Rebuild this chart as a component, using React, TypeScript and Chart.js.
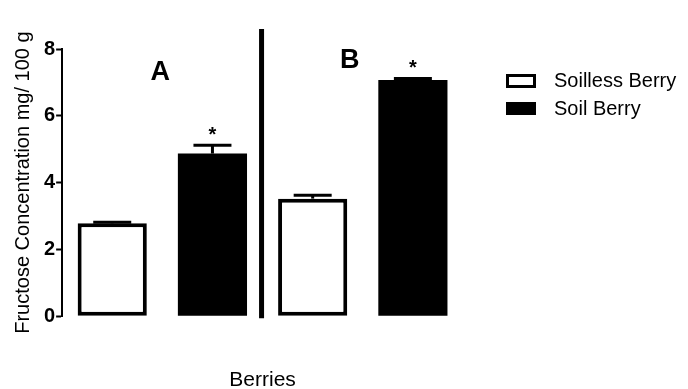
import React, { useEffect, useRef } from "react";
import { Chart, registerables } from "chart.js";

Chart.register(...registerables);

const categories = ["A Soilless", "A Soil", "B Soilless", "B Soil"];
const soillessValues = [2.78, null, 3.52, null];
const soilValues = [null, 4.87, null, 7.07];
const errors = [0.03, 0.25, 0.1, 0.05];
const significant = [false, true, false, true];
const groupLabels = ["A", "B"];
const groupLabelX = [0.48, 2.37];
const groupLabelY = [7.3, 7.65];
const yTicks = [0, 2, 4, 6, 8];

const FONT = "'Liberation Sans', Arial, Helvetica, sans-serif";

const extrasPlugin = {
  id: "extras",
  afterDatasetsDraw(chart: any) {
    const ctx = chart.ctx;
    const x = chart.scales.x;
    const y = chart.scales.y;
    ctx.save();
    ctx.strokeStyle = "#000";
    ctx.fillStyle = "#000";
    // error bars + asterisks
    categories.forEach((_, i) => {
      const v = soillessValues[i] ?? soilValues[i];
      if (v == null) return;
      const cx = x.getPixelForValue(i);
      const top = y.getPixelForValue(v + errors[i]);
      const base = y.getPixelForValue(v);
      ctx.lineWidth = 3;
      ctx.beginPath();
      ctx.moveTo(cx, base);
      ctx.lineTo(cx, top);
      ctx.stroke();
      ctx.beginPath();
      ctx.moveTo(cx - 19, top);
      ctx.lineTo(cx + 19, top);
      ctx.stroke();
      if (significant[i]) {
        ctx.font = `bold 20px ${FONT}`;
        ctx.textAlign = "center";
        ctx.textBaseline = "middle";
        ctx.fillText("*", cx, top - 10);
      }
    });
    // divider
    const dx = (x.getPixelForValue(1) + x.getPixelForValue(2)) / 2 - 1;
    ctx.lineWidth = 5;
    ctx.beginPath();
    ctx.moveTo(dx, y.getPixelForValue(8.6));
    ctx.lineTo(dx, chart.chartArea.bottom + 2);
    ctx.stroke();
    // group labels
    ctx.font = `bold 27px ${FONT}`;
    ctx.textAlign = "center";
    ctx.textBaseline = "middle";
    groupLabels.forEach((t, i) => {
      ctx.fillText(t, x.getPixelForValue(groupLabelX[i]), y.getPixelForValue(groupLabelY[i]));
    });
    // legend
    const lx = chart.chartArea.right + 43;
    const ly = chart.chartArea.top + 25;
    chart.data.datasets.forEach((ds: any, i: number) => {
      const by = ly + i * 28;
      if (ds.backgroundColor === "#ffffff") {
        ctx.fillStyle = "#fff";
        ctx.fillRect(lx, by, 30, 14);
        ctx.lineWidth = 3;
        ctx.strokeStyle = "#000";
        ctx.strokeRect(lx + 1.5, by + 1.5, 27, 11);
      } else {
        ctx.fillStyle = "#000";
        ctx.fillRect(lx, by, 30, 13);
      }
      ctx.fillStyle = "#000";
      ctx.font = `20px ${FONT}`;
      ctx.textAlign = "left";
      ctx.textBaseline = "middle";
      ctx.fillText(ds.label, lx + 48, by + 7);
    });
    ctx.restore();
  },
};

export default function App() {
  const ref = useRef<HTMLCanvasElement>(null);
  useEffect(() => {
    if (!ref.current) return;
    const chart = new Chart(ref.current, {
      type: "bar",
      data: {
        labels: categories,
        datasets: [
          {
            label: "Soilless Berry",
            data: soillessValues,
            backgroundColor: "#ffffff",
            borderColor: "#000000",
            borderWidth: 4,
            borderSkipped: false,
          },
          {
            label: "Soil Berry",
            data: soilValues,
            backgroundColor: "#000000",
            borderColor: "#000000",
            borderWidth: 0,
          },
        ],
      },
      options: {
        responsive: false,
        animation: false,
        events: [],
        datasets: { bar: { grouped: false, barPercentage: 0.69, categoryPercentage: 1 } },
        layout: { padding: { top: 49, right: 225, left: 11, bottom: 0 } },
        plugins: { legend: { display: false }, tooltip: { enabled: false } },
        scales: {
          x: {
            grid: { display: false, drawTicks: false },
            border: { display: false },
            ticks: { display: false },
            title: {
              display: true,
              text: "Berries",
              color: "#000",
              font: { family: FONT, size: 21, lineHeight: 0.8 },
              padding: { top: 56, bottom: 0 },
            },
          },
          y: {
            min: 0,
            max: 8,
            afterBuildTicks: (s: any) => {
              s.ticks = yTicks.map((v) => ({ value: v }));
            },
            grid: {
              drawOnChartArea: false,
              drawTicks: true,
              tickLength: 6,
              tickWidth: 2,
              tickColor: "#000",
            },
            border: { display: true, color: "#000", width: 2 },
            ticks: {
              color: "#000",
              padding: 1,
              font: { family: FONT, size: 20, weight: "bold" },
            },
            title: {
              display: true,
              text: "Fructose Concentration mg/ 100 g",
              color: "#000",
              font: { family: FONT, size: 20 },
              padding: { top: 0, bottom: 8 },
            },
          },
        },
      },
      plugins: [extrasPlugin],
    });
    return () => chart.destroy();
  }, []);
  return (
    <div style={{ position: "fixed", left: 0, top: 0, width: 688, height: 389, background: "#fff" }}>
      <canvas ref={ref} width={688} height={389} style={{ display: "block" }} />
    </div>
  );
}
